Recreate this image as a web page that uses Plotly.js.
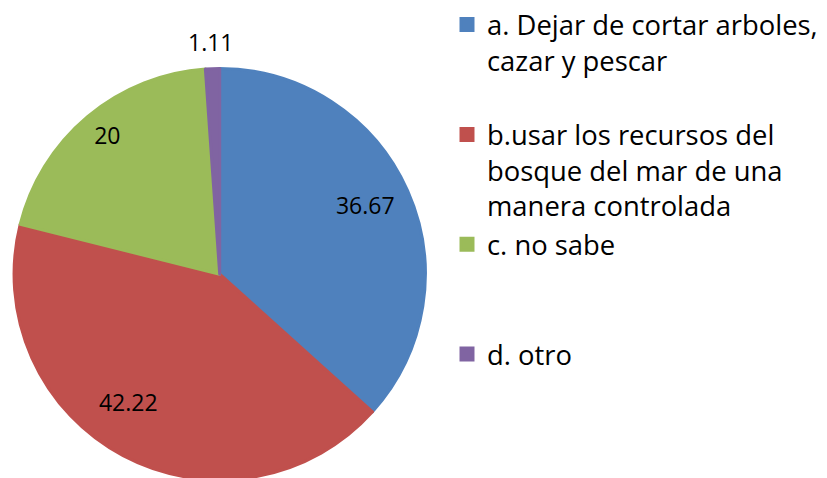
<!DOCTYPE html>
<html>
<head>
<meta charset="utf-8">
<script src="https://cdn.plot.ly/plotly-3.0.1.min.js"></script>
<style>
html, body { margin: 0; padding: 0; overflow: hidden; background: #fff; }
#chart { width: 827px; height: 490px; }
</style>
</head>
<body>
<div id="chart"></div>
<script>
// ---- data ----
const categoryLines = [
  ['a. Dejar de cortar arboles,', 'cazar y pescar'],
  ['b.usar los recursos del', 'bosque del mar de una', 'manera controlada'],
  ['c. no sabe'],
  ['d. otro']
];
const values = [36.67, 42.22, 20, 1.11];
const colors = ['#4F81BD', '#C0504D', '#9BBB59', '#8064A2'];
const labelPositions = ['inside', 'inside', 'inside', 'outside'];

// legend entries: pad to equal height so entries are evenly spaced (last one left as is)
const NBSP = '\u00a0';
const legendLabels = categoryLines.map((lines, i) => {
  const padded = lines.slice();
  if (i < categoryLines.length - 1) {
    while (padded.length < 3) padded.push(NBSP);
  }
  return padded.join('<br>');
});

const FONT = '"Open Sans", sans-serif';
const pieDomain = { x: [0.01596, 0.51536], y: [0.02082, 0.86367] };

const pieTrace = {
  type: 'pie',
  labels: legendLabels,
  values: values,
  sort: false,
  direction: 'clockwise',
  rotation: 0,
  domain: pieDomain,
  marker: { colors: colors, line: { color: colors, width: 3 } },
  textinfo: 'none',
  hoverinfo: 'skip',
  showlegend: true
};

// label placement (Excel "best fit" look): per-slice ring / rotation / domain
const labelStyle = [
  { hole: 0.568, rotation: -1.5, domain: pieDomain },
  { hole: 0.527, rotation: 7.6, domain: pieDomain },
  { hole: 0.74, rotation: 1.1, domain: pieDomain },
  { hole: 0, rotation: 0, domain: { x: [0.05103, 0.55042], y: [0.04224, 0.88510] } }
];

const textTraces = values.map((v, i) => ({
  type: 'pie',
  labels: legendLabels,
  values: values,
  sort: false,
  direction: 'clockwise',
  rotation: labelStyle[i].rotation,
  domain: labelStyle[i].domain,
  hole: labelStyle[i].hole,
  marker: { colors: values.map(() => 'rgba(0,0,0,0)'), line: { width: 0 } },
  texttemplate: '%{value}',
  textposition: values.map((_, j) => (j === i ? labelPositions[i] : 'none')),
  insidetextorientation: 'horizontal',
  textfont: { family: FONT, size: 23, color: '#000000' },
  hoverinfo: 'skip',
  showlegend: false
}));

const layout = {
  width: 827,
  height: 490,
  margin: { l: 0, r: 0, t: 0, b: 0 },
  paper_bgcolor: '#ffffff',
  plot_bgcolor: '#ffffff',
  showlegend: true,
  hovermode: false,
  legend: {
    x: 447 / 827,
    xanchor: 'left',
    y: 1 + 1.8 / 490,
    yanchor: 'top',
    valign: 'top',
    maxheight: 1000,
    bgcolor: 'rgba(0,0,0,0)',
    borderwidth: 0,
    font: { family: FONT, size: 27.4, color: '#000000' }
  }
};

Plotly.newPlot('chart', [pieTrace].concat(textTraces), layout, { staticPlot: true, displayModeBar: false });
</script>
</body>
</html>
